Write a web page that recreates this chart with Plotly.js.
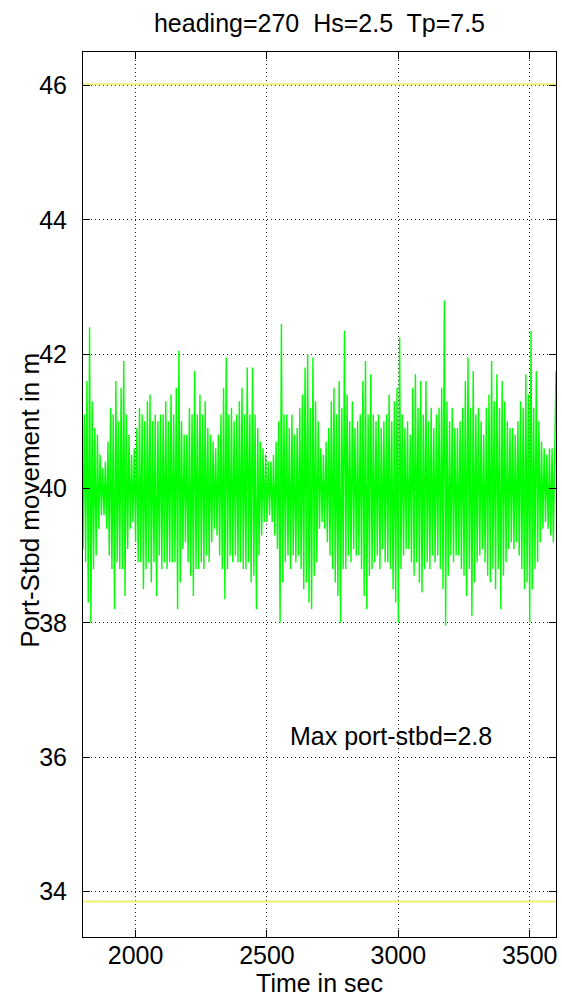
<!DOCTYPE html>
<html><head><meta charset="utf-8">
<script src="https://cdn.plot.ly/plotly-3.0.1.min.js"></script>
<style>html,body{margin:0;padding:0;background:#fff}#plot{width:562px;height:1001px}</style>
</head><body><div id="plot"></div>
<script>
// Time axis: start, step (sec)
const tStart = 1800;
const tStep = 5;
// Port-Stbd movement (m), every 5 s
const movement = [
39.1,41.1,38.9,41.6,38.3,42.4,38.0,41.3,38.8,40.9,
39.0,40.8,39.4,40.5,39.6,40.3,39.6,40.4,39.4,40.7,
39.0,41.2,38.8,41.1,38.2,41.6,38.9,41.0,38.8,41.5,
38.8,41.9,38.4,41.1,39.1,40.8,39.4,40.5,39.5,40.6,
39.2,40.9,38.9,41.2,38.9,41.1,38.5,41.0,38.8,41.3,
38.9,41.4,38.6,41.0,38.9,41.1,38.4,41.0,39.0,41.1,
38.8,41.1,38.9,41.3,38.8,41.0,38.9,41.4,38.9,41.1,
38.9,41.5,38.2,42.05,38.6,41.0,39.1,40.8,39.2,40.8,
38.9,41.2,38.7,41.1,38.4,41.75,38.8,41.1,38.8,41.4,
38.9,41.1,38.8,41.3,39.0,40.9,38.9,40.8,39.2,40.7,
39.4,40.6,39.3,40.8,39.0,41.1,38.8,41.5,38.35,41.95,
38.8,41.1,39.0,41.2,38.9,41.0,39.0,41.1,38.9,41.3,
38.9,41.5,38.8,41.1,38.8,41.8,38.9,41.1,38.6,41.8,
38.7,41.1,38.2,40.9,39.0,40.7,39.3,40.6,39.5,40.5,
39.5,40.4,39.6,40.4,39.5,40.5,39.3,40.7,39.1,41.0,
38.0,42.45,38.6,41.1,38.9,41.1,39.0,40.9,38.8,41.1,
39.0,40.8,38.9,40.9,39.0,41.2,38.8,41.4,38.5,41.8,
38.6,42.0,38.3,41.2,38.2,41.95,38.7,41.3,38.9,41.0,
39.4,40.6,39.5,40.5,39.4,40.7,39.2,40.9,39.0,41.3,
38.8,41.5,38.6,41.1,38.4,41.6,38.0,41.2,38.8,42.35,
38.8,41.4,39.0,41.0,38.9,41.3,39.1,40.9,39.0,41.0,
39.0,41.1,38.8,41.6,38.4,41.9,38.2,41.1,38.7,41.7,
38.8,41.1,38.9,41.0,39.0,41.1,38.8,40.9,39.1,41.0,
38.9,41.1,38.9,41.4,38.8,41.0,38.5,41.3,38.3,41.5,
38.0,42.25,38.8,41.1,39.0,40.9,39.1,41.0,39.1,40.8,
38.9,41.5,38.7,41.7,38.9,41.2,38.6,41.6,38.45,41.1,
38.8,41.6,38.9,41.0,38.8,41.2,39.0,40.9,38.9,41.1,
39.0,41.2,38.8,41.5,38.5,42.8,37.96,41.3,38.7,41.0,
39.0,41.2,38.9,40.9,39.0,40.9,39.0,41.0,38.8,41.2,
38.7,41.6,38.4,41.95,38.8,41.2,38.1,41.75,38.6,41.1,
38.9,41.2,39.0,41.0,39.1,40.8,38.9,41.2,38.7,41.4,
38.6,41.9,38.8,41.3,38.5,41.7,38.8,41.2,38.2,41.6,
38.7,41.3,38.9,41.0,39.1,40.9,39.2,40.9,39.1,40.8,
39.2,41.0,39.0,41.3,38.8,41.2,38.5,41.7,38.6,41.4,
38.0,42.35,38.5,41.2,38.8,41.75,38.9,41.0,39.2,40.7,
39.4,40.6,39.5,40.5,39.4,40.6,39.3,40.6,39.2,40.7,
41.75
];
// Limit lines (yellow)
const upperLimit = 46.02;
const lowerLimit = 33.85;
const xRange = [1800, 3600];
const yRange = [33.32, 46.5];
const xTicks = [2000, 2500, 3000, 3500];
const yTicks = [34, 36, 38, 40, 42, 44, 46];
const titleText = 'heading=270  Hs=2.5  Tp=7.5';
const xTitle = 'Time in sec';
const yTitle = 'Port-Stbd movement in m';
const noteText = 'Max port-stbd=2.8';
const noteX = 2580, noteY = 36.32;

const time = movement.map((_, i) => tStart + i * tStep);
const F = '"Liberation Sans", Arial, Helvetica, sans-serif';

const traces = [
  {x: xRange, y: [upperLimit, upperLimit], mode: 'lines', line: {color: '#f3ef72', width: 2}, hoverinfo: 'skip'},
  {x: xRange, y: [lowerLimit, lowerLimit], mode: 'lines', line: {color: '#f3ef72', width: 2}, hoverinfo: 'skip'},
  {x: time, y: movement, mode: 'lines', line: {color: '#00ff00', width: 1.4}}
];
const axisCommon = {
  showline: true, linecolor: '#000', linewidth: 1, mirror: 'ticks',
  ticks: 'inside', ticklen: 7, tickcolor: '#000', tickwidth: 1,
  showgrid: true, gridcolor: '#222', gridwidth: 1, griddash: '1px,3px',
  zeroline: false, tickfont: {family: F, size: 25, color: '#000'}
};
const layout = {
  width: 562, height: 1001, showlegend: false,
  paper_bgcolor: '#fff', plot_bgcolor: '#fff',
  margin: {l: 83, r: 6, t: 52, b: 64},
  title: {text: titleText, font: {family: F, size: 25, color: '#000'}, x: 0.5, xref: 'paper', xanchor: 'center', y: 0.977, yref: 'container', yanchor: 'middle'},
  xaxis: Object.assign({}, axisCommon, {range: xRange, tickvals: xTicks, ticktext: xTicks.map(String), ticklabelstandoff: -4,
    title: {text: xTitle, font: {family: F, size: 25, color: '#000'}, standoff: 4}}),
  yaxis: Object.assign({}, axisCommon, {range: yRange, tickvals: yTicks, ticktext: yTicks.map(String), ticklabelstandoff: 10}),
  annotations: [
    {x: noteX, y: noteY, xref: 'x', yref: 'y', text: noteText, showarrow: false, xanchor: 'left', yanchor: 'middle',
     font: {family: F, size: 25, color: '#000'}},
    {x: -0.112, y: 0.493, xref: 'paper', yref: 'paper', text: yTitle, textangle: -90, showarrow: false,
     xanchor: 'center', yanchor: 'middle', font: {family: F, size: 26, color: '#000'}}
  ]
};
Plotly.newPlot('plot', traces, layout, {staticPlot: true, displayModeBar: false});
</script></body></html>
